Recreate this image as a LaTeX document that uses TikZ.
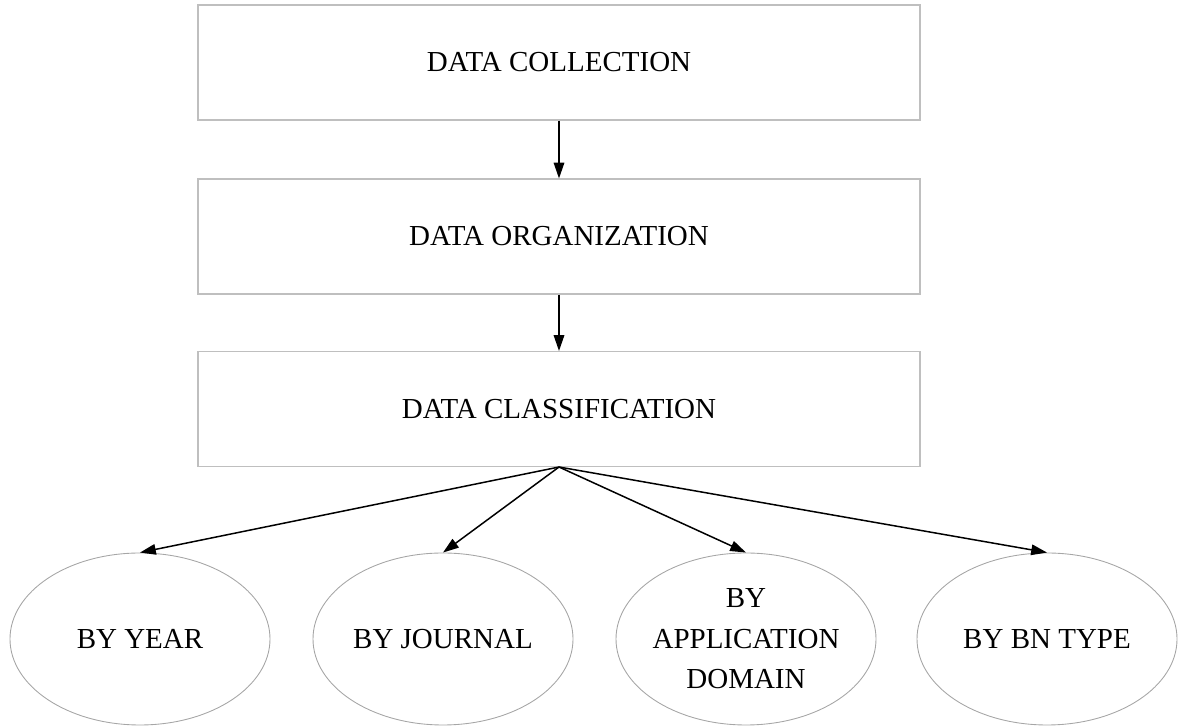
\documentclass[tikz,border=0pt]{standalone}
\usepackage{fontspec}
\setmainfont{Liberation Serif}
\usetikzlibrary{shapes.geometric,arrows.meta}
\tikzset {>={Triangle[length=9pt,width=6pt]}}
\tikzset{stage/.style={draw=black!25,line width=0.6pt,minimum width=14.44cm,minimum height=2.3cm,font=\fontsize{16.5}{23}\selectfont},
  group/.style={ellipse,draw=black!35,line width=0.5pt,inner xsep=-4pt,inner ysep=-4pt,minimum width=5.2cm,minimum height=3.44cm,align=center,font=\fontsize{16.5}{23}\selectfont},
  link/.style={->,line width=0.85pt}}

\begin{document}
\begin{tikzpicture}
\useasboundingbox (0,0) rectangle (23.56,14.56);
\node[stage] (collect) at (11.18,13.31) {DATA COLLECTION};
\node[stage] (organize) at (11.18,9.83) {DATA ORGANIZATION};
\node[stage] (classify) at (11.18,6.38) {DATA CLASSIFICATION};

\node[group] (year) at (2.8,1.78) {BY YEAR};
\node[group] (journal) at (8.86,1.78) {BY JOURNAL};
\node[group] (domain) at (14.92,1.78) {BY\\APPLICATION\\DOMAIN};
\node[group] (bntype) at (20.94,1.78) {BY BN TYPE};

\draw[link] (collect) -- (organize);
\draw[link] (organize) -- (classify);
\foreach \g in {year,journal,domain,bntype}
  \draw[link] (classify.south) -- (\g.north);
\end{tikzpicture}
\end{document}
